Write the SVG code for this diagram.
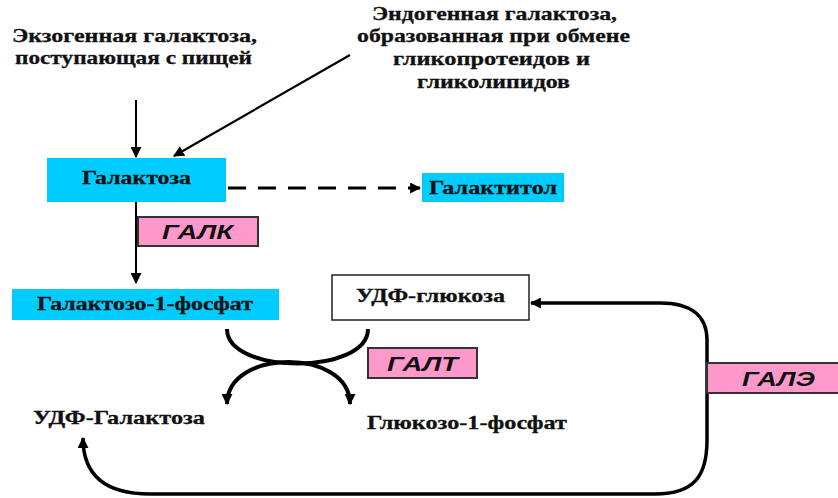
<svg xmlns="http://www.w3.org/2000/svg" width="838" height="498" viewBox="0 0 838 498">
<defs>
<style>
.t{font-family:"Liberation Serif","Times New Roman",serif;font-weight:bold;font-size:19px;fill:#111;stroke:#111;stroke-width:0.3}
.e{font-family:"Liberation Sans",Arial,sans-serif;font-weight:bold;font-style:italic;font-size:20px;fill:#111}
.cy{fill:#00CCFF;stroke:none}
.pk{fill:#FF99CC;stroke:#333;stroke-width:2}
.wh{fill:#fff;stroke:#222;stroke-width:1.5}
.ln{fill:none;stroke:#000}
</style>
<marker id="ah" viewBox="0 0 10 10" refX="9" refY="5" markerWidth="11" markerHeight="11" markerUnits="userSpaceOnUse" orient="auto-start-reverse">
<path d="M0,0 L10,5 L0,10 z" fill="#000"/>
</marker>
</defs>
<rect width="838" height="498" fill="#fff"/>

<g id="connectors">
<line class="ln" x1="136" y1="100" x2="136" y2="157" stroke-width="2" marker-end="url(#ah)"/>
<line class="ln" x1="350" y1="55" x2="174" y2="156" stroke-width="2.2" marker-end="url(#ah)"/>
<line class="ln" x1="228" y1="188" x2="420" y2="188" stroke-width="3" stroke-dasharray="18 12" marker-end="url(#ah)"/>
<line class="ln" x1="136" y1="202" x2="136" y2="283" stroke-width="2" marker-end="url(#ah)"/>
<path class="ln" d="M 227 329 C 227 375, 368 375, 368 329" stroke-width="4"/>
<path class="ln" d="M 227 404 C 227 348, 350 348, 350 404" stroke-width="4" marker-start="url(#ah)" marker-end="url(#ah)"/>
<path class="ln" d="M 83 438 C 83 475, 105 494, 150 494 L 655 494 C 695 494, 707 475, 707 440 L 707 340 C 707 315, 690 303, 660 303 L 531 303" stroke-width="3.5" marker-start="url(#ah)" marker-end="url(#ah)"/>
</g>

<g id="exo">
<text class="t" x="12" y="42" textLength="245" lengthAdjust="spacingAndGlyphs">Экзогенная галактоза,</text>
<text class="t" x="15" y="64" textLength="237" lengthAdjust="spacingAndGlyphs">поступающая с пищей</text>
</g>

<g id="endo">
<text class="t" x="372" y="20" textLength="245" lengthAdjust="spacingAndGlyphs">Эндогенная галактоза,</text>
<text class="t" x="357" y="42" textLength="273" lengthAdjust="spacingAndGlyphs">образованная при обмене</text>
<text class="t" x="393" y="65" textLength="197" lengthAdjust="spacingAndGlyphs">гликопротеидов и</text>
<text class="t" x="417" y="88" textLength="153" lengthAdjust="spacingAndGlyphs">гликолипидов</text>
</g>

<g id="galactose">
<rect class="cy" x="47" y="158" width="179" height="44"/>
<text class="t" x="82" y="184" textLength="109" lengthAdjust="spacingAndGlyphs">Галактоза</text>
</g>

<g id="galactitol">
<rect class="cy" x="422" y="173" width="142" height="29"/>
<text class="t" x="429" y="194" textLength="128" lengthAdjust="spacingAndGlyphs">Галактитол</text>
</g>

<g id="galk">
<rect class="pk" x="138" y="217" width="120" height="29"/>
<text class="e" x="162" y="239" textLength="71" lengthAdjust="spacingAndGlyphs">ГАЛК</text>
</g>

<g id="gal1p">
<rect class="cy" x="12" y="289" width="267" height="31"/>
<text class="t" x="37" y="310" textLength="216" lengthAdjust="spacingAndGlyphs">Галактозо-1-фосфат</text>
</g>

<g id="udpglc">
<rect class="wh" x="332" y="275" width="197" height="45"/>
<text class="t" x="356" y="302" textLength="149" lengthAdjust="spacingAndGlyphs">УДФ-глюкоза</text>
</g>

<g id="galt">
<rect class="pk" x="368" y="348" width="109" height="30"/>
<text class="e" x="387" y="371" textLength="71" lengthAdjust="spacingAndGlyphs">ГАЛТ</text>
</g>

<g id="udpgal">
<text class="t" x="33" y="424" textLength="172" lengthAdjust="spacingAndGlyphs">УДФ-Галактоза</text>
</g>

<g id="glc1p">
<text class="t" x="367" y="429" textLength="200" lengthAdjust="spacingAndGlyphs">Глюкозо-1-фосфат</text>
</g>

<g id="gale">
<rect class="pk" x="707" y="363" width="135" height="30"/>
<text class="e" x="742" y="386" textLength="73" lengthAdjust="spacingAndGlyphs">ГАЛЭ</text>
</g>
</svg>
